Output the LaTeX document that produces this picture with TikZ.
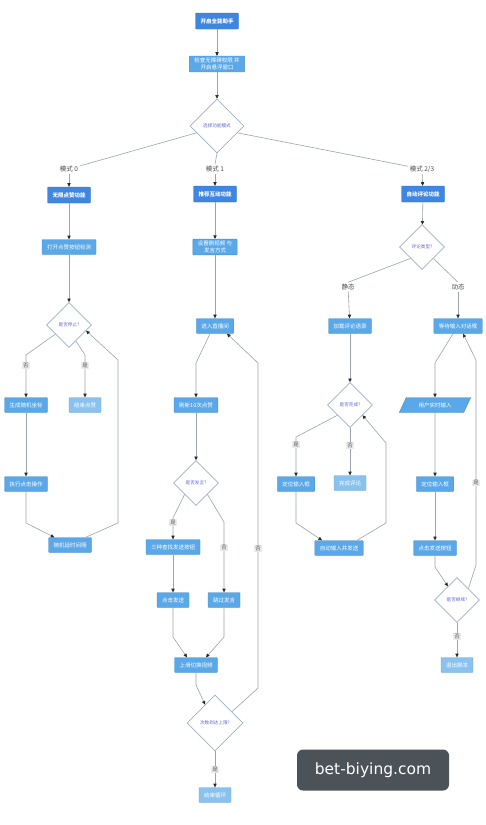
\documentclass[tikz,border=0pt]{standalone}
\usepackage{fontspec}
\setmainfont{Noto Sans CJK SC}
\newfontfamily\wmfont{DejaVu Sans}
\usetikzlibrary{arrows.meta,shapes.geometric,calc}
\definecolor{fcol}{HTML}{3F86E0}
\definecolor{bcol}{HTML}{5BA8E8}
\definecolor{tcol}{HTML}{8AC2EF}
\definecolor{lncol}{HTML}{9AA4AD}
\definecolor{diacol}{HTML}{9DB2C6}
\definecolor{diatext}{HTML}{5C6AD0}
\definecolor{wmcol}{HTML}{4B5358}
\tikzset{
  base/.style={font=\fontsize{5.5}{6.8}\selectfont, text=white, inner xsep=5pt, inner ysep=2pt, minimum height=15pt, rounded corners=0.8pt, align=center},
  fbox/.style={base, fill=fcol, draw=fcol!85!black, font=\fontsize{5.5}{6.8}\selectfont\bfseries, minimum height=16pt},
  bbox/.style={base, fill=bcol, draw=bcol!85!black},
  tbox/.style={base, fill=tcol, draw=tcol!85!black},
  para/.style={base, trapezium, trapezium left angle=65, trapezium right angle=115, fill=bcol, draw=bcol!85!black, inner xsep=1pt, rounded corners=0pt},
  dia/.style={diamond, aspect=1, draw=diacol, fill=white, line width=0.6pt, minimum width=45pt, minimum height=45pt, inner sep=0pt, font=\fontsize{4.6}{5.5}\selectfont, text=diatext},
  mlbl/.style={font=\fontsize{6.5}{7.5}\selectfont, text=black!70, inner sep=1.5pt},
  lbl/.style={font=\fontsize{5.5}{6.5}\selectfont, text=black!65, fill=black!8, inner sep=1pt},
  ln/.style={draw=lncol, line width=0.6pt},
  arr/.style={ln, -{Triangle[length=3.6pt,width=3.3pt,color=black!85]}},
  wm/.style={fill=wmcol, rounded corners=6pt, text=white, font=\wmfont\fontsize{15.5}{18}\selectfont, minimum width=152pt, minimum height=41pt, inner sep=0pt}
}
\begin{document}
\begin{tikzpicture}[x={(1pt,0)}, y={(0,-1pt)}]
\useasboundingbox (0,0) rectangle (485,825);
\fill[white] (0,0) rectangle (485,825);

% top
\node[fbox] (start) at (217,21) {开启全能助手};
\node[bbox] (chk) at (217,64) {检查无障碍权限 并\\开启悬浮窗口};
\node[dia, minimum width=54pt, minimum height=54pt] (d1) at (217,126) {选择功能模式};
\node[mlbl] (m0) at (69,169) {模式 0};
\node[mlbl] (m1) at (215,169) {模式 1};
\node[mlbl] (m2) at (422,169) {模式 2/3};
\node[fbox] (f0) at (69,195) {无限点赞功能};
\node[fbox] (f1) at (215,194) {推荐互动功能};
\node[fbox] (f2) at (423,194) {自动评论功能};

% mode 0
\node[bbox] (a0) at (69,247) {打开点赞按钮检测};
\node[dia] (d0) at (69,325) {是否停止?};
\node[bbox] (g0) at (26,405) {生成随机坐标};
\node[tbox] (t0) at (85,405) {结束点赞};
\node[bbox] (e0) at (26,484) {执行点击操作};
\node[bbox] (r0) at (70,545) {随机延时间隔};

% mode 1
\node[bbox] (s1) at (215,247) {设置刷视频 与\\发言方式};
\node[bbox] (live) at (215,326) {进入直播间};
\node[bbox] (k1) at (196,405) {刷新10次点赞};
\node[dia] (d3) at (196,483) {是否发言?};
\node[bbox] (fs) at (173,547) {三种查找发送按钮};
\node[bbox] (cs) at (173,600) {点击发送};
\node[bbox] (tg) at (224,600) {跳过发言};
\node[bbox] (sh) at (196,665) {上滑切换视频};
\node[dia, minimum width=56pt, minimum height=56pt] (d4) at (215,723) {次数到达上限?};
\node[tbox] (t1) at (215,795) {结束循环};

% mode 2/3
\node[dia] (d2) at (422,247) {评论类型?};
\node[mlbl] (st) at (348,287) {静态};
\node[mlbl] (dy) at (458,287) {动态};
\node[bbox] (ld) at (350,326) {加载评论语录};
\node[bbox] (wt) at (458,326) {等待输入对话框};
\node[dia] (d5) at (350,405) {是否完成?};
\node[bbox] (loc1) at (296,484) {定位输入框};
\node[tbox] (t2) at (350,483) {完成评论};
\node[bbox] (ai) at (339,548) {自动输入并发送};
\node[para] (ui) at (435,405) {用户实时输入};
\node[bbox] (loc2) at (435,484) {定位输入框};
\node[bbox] (cb) at (435,548) {点击发送按钮};
\node[dia] (d6) at (457,600) {是否继续?};
\node[tbox] (t3) at (457,665) {退出脚本};

% watermark
\node[wm] (wm) at (373,770) {bet-biying.com};

% edges top
\draw[arr] (start) -- (chk);
\draw[arr] (chk) -- (d1);
\draw[ln] ($(d1.west)!0.25!(d1.south)$) -- (m0);
\draw[ln] (d1.south) -- (m1.north);
\draw[ln] ($(d1.east)!0.25!(d1.south)$) -- (m2);
\draw[arr] (m0) -- (f0);
\draw[arr] (m1) -- (f1);
\draw[arr] (m2) -- (f2);

% edges mode 0
\draw[arr] (f0) -- (a0);
\draw[arr] (a0) -- (d0);
\draw[arr] ($(d0.south)!0.6!(d0.west)$) -- (26,355) -- node[lbl,pos=0.25]{否} (g0.north);
\draw[arr] ($(d0.south)!0.3!(d0.east)$) -- (85,355) -- node[lbl,pos=0.25]{是} (t0.north);
\draw[arr] (g0) -- (e0);
\draw[arr] (e0.south) -- (26,523) -- ([xshift=6pt]r0.north west);
\draw[arr] ([xshift=-6pt]r0.north east) -- (118,523) -- (118,360) -- ($(d0.south)!0.75!(d0.east)$);

% edges mode 1
\draw[arr] (f1) -- (s1);
\draw[arr] (s1) -- (live);
\draw[arr] ([xshift=-5pt]live.south) -- (196,363) -- (k1.north);
\draw[arr] (k1) -- (d3);
\draw[arr] ($(d3.south)!0.5!(d3.west)$) -- (173,518) -- node[lbl,pos=0.22]{是} (fs.north);
\draw[arr] ($(d3.south)!0.5!(d3.east)$) -- (224,522) -- node[lbl,pos=0.37]{否} (tg.north);
\draw[arr] (fs) -- (cs);
\draw[arr] (cs.south) -- (173,637) -- ([xshift=-9pt]sh.north);
\draw[arr] (tg.south) -- (224,637) -- ([xshift=10pt]sh.north);
\draw[arr] (sh.south) -- (196,685) -- ($(d4.north)!0.35!(d4.west)$);
\draw[arr] ($(d4.north)!0.6!(d4.east)$) -- (258,688) -- node[lbl,pos=0.43]{否} (258,363) -- ([xshift=12pt]live.south);
\draw[arr] (d4.south) -- node[lbl]{是} (t1.north);

% edges mode 2/3
\draw[arr] (f2) -- (d2);
\draw[ln] ($(d2.south)!0.5!(d2.west)$) -- (st.north);
\draw[arr] (st) -- (ld);
\draw[ln] ($(d2.south)!0.5!(d2.east)$) -- (dy.north);
\draw[arr] (dy) -- (wt);
\draw[arr] (ld) -- (d5);
\draw[arr] ($(d5.south)!0.55!(d5.west)$) -- (296,437) -- node[lbl,pos=0.2]{是} (loc1.north);
\draw[arr] (d5.south) -- node[lbl,pos=0.37]{否} (t2.north);
\draw[arr] (loc1.south) -- (296,523) -- ([xshift=-17pt]ai.north);
\draw[arr] ([xshift=18pt]ai.north) -- (386,523) -- (386,443) -- ($(d5.south)!0.55!(d5.east)$);
\draw[arr] ([xshift=-5pt]wt.south) -- (435,363) -- (ui.north);
\draw[arr] (ui) -- (loc2);
\draw[arr] (loc2) -- (cb);
\draw[arr] (cb.south) -- (435,567) -- ($(d6.north)!0.4!(d6.west)$);
\draw[arr] ($(d6.north)!0.5!(d6.east)$) -- (476,565) -- node[lbl,pos=0.4]{是} (476,360) -- ([xshift=5pt]wt.south);
\draw[arr] (d6.south) -- node[lbl,pos=0.4]{否} (t3.north);
\end{tikzpicture}
\end{document}
